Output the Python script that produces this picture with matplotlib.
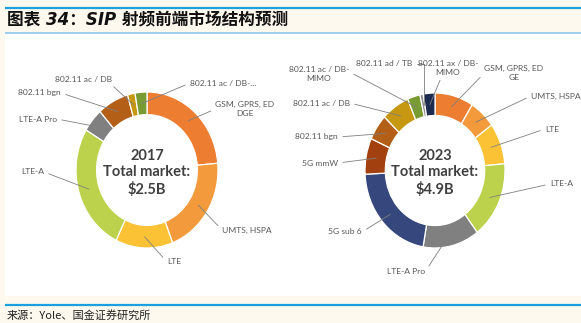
import numpy as np
import matplotlib
matplotlib.use("Agg")
import matplotlib.pyplot as plt
from matplotlib.patches import Rectangle
from matplotlib import font_manager

# ---------------- data ----------------
cats_2017 = ["GSM, GPRS, EDGE", "UMTS, HSPA", "LTE", "LTE-A", "LTE-A Pro",
             "802.11 bgn", "802.11 ac / DB", "802.11 ac / DB-MIMO"]
share_2017 = [23.6, 20.5, 13.0, 26.4, 4.9, 7.1, 1.7, 2.7]
labels_2017 = ["GSM, GPRS, ED\nDGE", "UMTS, HSPA", "LTE", "LTE-A", "LTE-A Pro",
               "802.11 bgn", "802.11 ac / DB", "802.11 ac / DB-..."]

cats_2023 = ["GSM, GPRS, EDGE", "UMTS, HSPA", "LTE", "LTE-A", "LTE-A Pro",
             "5G sub 6", "5G mmW", "802.11 bgn", "802.11 ac / DB",
             "802.11 ac / DB-MIMO", "802.11 ad / TB", "802.11 ax / DB-MIMO"]
share_2023 = [8.9, 6.1, 8.6, 16.1, 13.0, 21.5, 7.5, 5.4, 6.5, 2.9, 0.75, 2.7]
labels_2023 = ["GSM, GPRS, ED\nGE", "UMTS, HSPA", "LTE", "LTE-A", "LTE-A Pro",
               "5G sub 6", "5G mmW", "802.11 bgn", "802.11 ac / DB",
               "802.11 ac / DB-\nMIMO", "802.11 ad / TB", "802.11 ax / DB-\nMIMO"]

center_2017 = ["2017", "Total market:", "$2.5B"]
center_2023 = ["2023", "Total market:", "$4.9B"]

title = "图表 34：SIP 射频前端市场结构预测"
source = "来源：Yole、国金证券研究所"

colors = {
    "GSM, GPRS, EDGE": "#ED7D31",
    "UMTS, HSPA": "#F29A3C",
    "LTE": "#FCC236",
    "LTE-A": "#BDD24C",
    "LTE-A Pro": "#808080",
    "5G sub 6": "#36477E",
    "5G mmW": "#A2410F",
    "802.11 bgn": "#B45F17",
    "802.11 ac / DB": "#C69710",
    "802.11 ac / DB-MIMO": "#789B33",
    "802.11 ad / TB": "#8C8C8C",
    "802.11 ax / DB-MIMO": "#1F2B4E",
}

# ---------------- layout ----------------
W, H = 581, 323
names = {f.name for f in font_manager.fontManager.ttflist}
lab_font = "Lato" if "Lato" in names else "DejaVu Sans"
lab_color = "#595959"

fig = plt.figure(figsize=(W / 100, H / 100), dpi=100, facecolor="#FDF9EE")
bg = fig.add_axes([0, 0, 1, 1], zorder=0)
bg.set_xlim(0, W)
bg.set_ylim(H, 0)
bg.axis("off")
bg.add_patch(Rectangle((5, 33), W - 5, 263, facecolor="white", edgecolor="none"))
bg.plot([5, W], [8, 8], color="#1A9FE0", lw=1.6, solid_capstyle="butt")
bg.plot([5, W], [33, 33], color="#8CC6EC", lw=1.2, solid_capstyle="butt")
bg.plot([5, W], [305, 305], color="#1A9FE0", lw=1.6, solid_capstyle="butt")
bg.text(7, 20.5, title, fontsize=12, fontweight="bold", fontstyle="italic",
        family=["DejaVu Sans", "Noto Sans CJK SC"], ha="left", va="center", color="#111111")
bg.text(7, 315, source, fontsize=8, family=["Noto Sans CJK SC", "DejaVu Sans"],
        ha="left", va="center", color="#222222")


def donut(cx, cy, rx, ry, cats, shares, labels, centers, lab_pos):
    ax = fig.add_axes([(cx - rx) / W, (H - cy - ry) / H, 2 * rx / W, 2 * ry / H], zorder=1)
    ax.pie(shares, colors=[colors[c] for c in cats], startangle=90, counterclock=False,
           wedgeprops=dict(width=0.29, edgecolor="white", linewidth=0.9))
    ax.set_aspect("auto")
    ax.set_xlim(-1, 1)
    ax.set_ylim(-1, 1)
    ax.axis("off")
    total = float(sum(shares))
    cum = np.cumsum([0] + list(shares))
    for i, lab in enumerate(labels):
        mid = np.deg2rad(90 - 360 * (cum[i] + shares[i] / 2) / total)
        r = 0.855
        px, py, ha, rel, conn = lab_pos[i]
        ax.annotate(lab, xy=(r * np.cos(mid), r * np.sin(mid)), xycoords="data",
                    xytext=(px, py), textcoords=bg.transData, ha=ha, va="center",
                    multialignment="center", fontsize=6.1, family=lab_font,
                    color=lab_color, annotation_clip=False,
                    arrowprops=dict(arrowstyle="-", color="#7F7F7F", lw=0.6,
                                    shrinkA=1.5, shrinkB=0, relpos=rel,
                                    connectionstyle=conn))
    offs = [(cy - 156) / ry, (cy - 172) / ry, (cy - 189) / ry]
    for t, o in zip(centers, offs):
        ax.text(0, o, t, ha="center", va="center", fontsize=10.5, fontweight="bold",
                family=lab_font, color="#404040")
    return ax


S = "arc3,rad=0"
pos_2017 = [
    (245, 109, "center", (0, 0.5), S),
    (222, 230, "left", (0, 0.5), S),
    (167, 262, "left", (0, 0.5), S),
    (44, 172, "right", (1, 0.5), S),
    (57, 119, "right", (1, 0.5), S),
    (61, 93, "right", (1, 0.5), S),
    (112, 79, "right", (0.95, 0.0), S),
    (190, 83, "left", (0, 0.5), S),
]
pos_2023 = [
    (514, 73, "center", (0, 0.5), S),
    (531, 96, "left", (0, 0.5), S),
    (545, 129, "left", (0, 0.5), S),
    (550, 184, "left", (0, 0.5), S),
    (425, 272, "right", (1, 0.5), S),
    (362, 232, "right", (1, 0.5), S),
    (338, 163, "right", (1, 0.5), S),
    (338, 137, "right", (1, 0.5), S),
    (350, 103, "right", (1, 0.5), S),
    (319, 74, "center", (1, 0.65), S),
    (412, 64, "right", (1, 0.5), "angle,angleA=0,angleB=90,rad=0"),
    (448, 68, "center", (0.4, 0.0), S),
]

donut(147, 170, 71, 78, cats_2017, share_2017, labels_2017, center_2017, pos_2017)
donut(435, 170.5, 70, 77.5, cats_2023, share_2023, labels_2023, center_2023, pos_2023)

fig.savefig("out.png", dpi=100, facecolor=fig.get_facecolor())
